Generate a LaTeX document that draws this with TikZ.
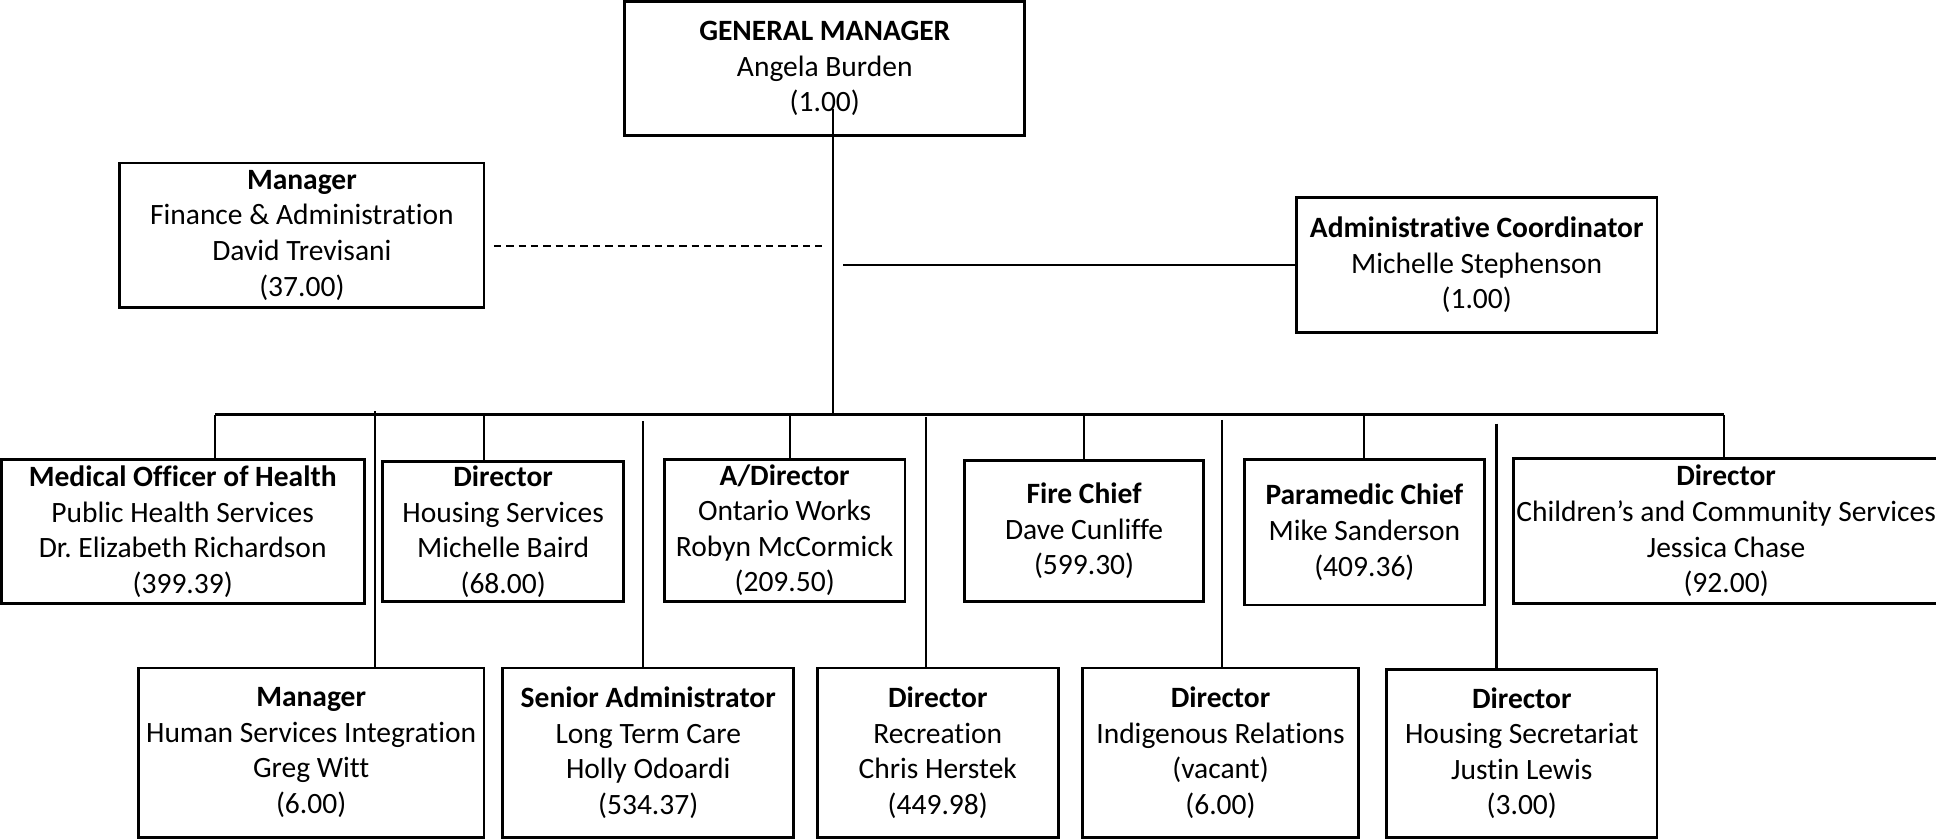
\documentclass[tikz,border=0pt]{standalone}
\usepackage{fontspec}
\setmainfont{Carlito}[Ligatures=NoCommon]

\begin{document}
\begin{tikzpicture}[x=0.02cm, y=-0.02cm, main/.style = {draw, line width=1.3pt, inner sep=0pt, align=center, font=\fontsize{13.6}{16.4}\selectfont, execute at begin node={\rule{0pt}{15pt}}}, link/.style = {line width=0.95pt}]
\useasboundingbox (0,0) rectangle (1568,680);

%top
\node[main, minimum width=6.48cm, minimum height=2.18cm] (1) at (668,55.5) {\textbf{GENERAL MANAGER}\\Angela Burden\\(1.00)};
\node[main, minimum width=5.90cm, minimum height=2.34cm] (2) at (244.5,190.5) {\textbf{Manager}\\Finance \& Administration\\David Trevisani\\(37.00)};
\node[main, minimum width=5.84cm, minimum height=2.18cm] (3) at (1196,214.5) {\textbf{Administrative Coordinator}\\Michelle Stephenson\\(1.00)};

%first row
\node[main, minimum width=5.88cm, minimum height=2.34cm] (4) at (148,430.5) {\textbf{Medical Officer of Health}\\Public Health Services\\Dr.\ Elizabeth Richardson\\(399.39)};
\node[main, minimum width=3.90cm, minimum height=2.26cm] (5) at (407.5,430.5) {\textbf{Director}\\Housing Services\\Michelle Baird\\(68.00)};
\node[main, minimum width=3.90cm, minimum height=2.30cm] (6) at (635.5,429.5) {\textbf{A/Director}\\Ontario Works\\Robyn McCormick\\(209.50)};
\node[main, minimum width=3.88cm, minimum height=2.28cm] (7) at (878,430) {\textbf{Fire Chief}\\Dave Cunliffe\\(599.30)};
\node[main, minimum width=3.88cm, minimum height=2.36cm] (8) at (1105,431) {\textbf{Paramedic Chief}\\Mike Sanderson\\(409.36)};
\node[main, minimum width=6.88cm, minimum height=2.36cm] (9) at (1398,430) {\textbf{Director}\\Children’s and Community Services\\Jessica Chase\\(92.00)};

%second row
\node[main, minimum width=5.60cm, minimum height=2.74cm] (10) at (252,609.5) {\textbf{Manager}\\Human Services Integration\\Greg Witt\\(6.00)};
\node[main, minimum width=4.72cm, minimum height=2.74cm] (11) at (525,609.5) {\textbf{Senior Administrator}\\Long Term Care\\Holly Odoardi\\(534.37)};
\node[main, minimum width=3.90cm, minimum height=2.74cm] (12) at (759.5,609.5) {\textbf{Director}\\Recreation\\Chris Herstek\\(449.98)};
\node[main, minimum width=4.46cm, minimum height=2.74cm] (13) at (988.5,609.5) {\textbf{Director}\\Indigenous Relations\\(vacant)\\(6.00)};
\node[main, minimum width=4.38cm, minimum height=2.72cm] (14) at (1232.5,610) {\textbf{Director}\\Housing Secretariat\\Justin Lewis\\(3.00)};

%lines
\coordinate (t) at (675,88);
\coordinate (b) at (675,336);
\coordinate (l) at (174,336);
\coordinate (r) at (1396,336);
\coordinate (d1) at (400,199);
\coordinate (d2) at (666,199);
\coordinate (a) at (683,215);

\draw[link] (t) -- (b);
\draw[line width=1.3pt] (l) -- (r);
\draw[link, dash pattern=on 3.4pt off 2.3pt] (d1) -- (d2);
\draw[link] (a) -- (a -| 3.west);

\foreach \x/\n in {174/4, 392/5, 640/6, 878/7, 1105/8, 1396/9}
  \draw[link] (\x,336) -- (\x,336 |- \n.north);
\foreach \x/\y/\n in {304/333/10, 521/341/11, 750/338/12, 990/340/13, 1212/343/14}
  \draw[link] (\x,\y) -- (\x,\y |- \n.north);
\end{tikzpicture}
\end{document}
